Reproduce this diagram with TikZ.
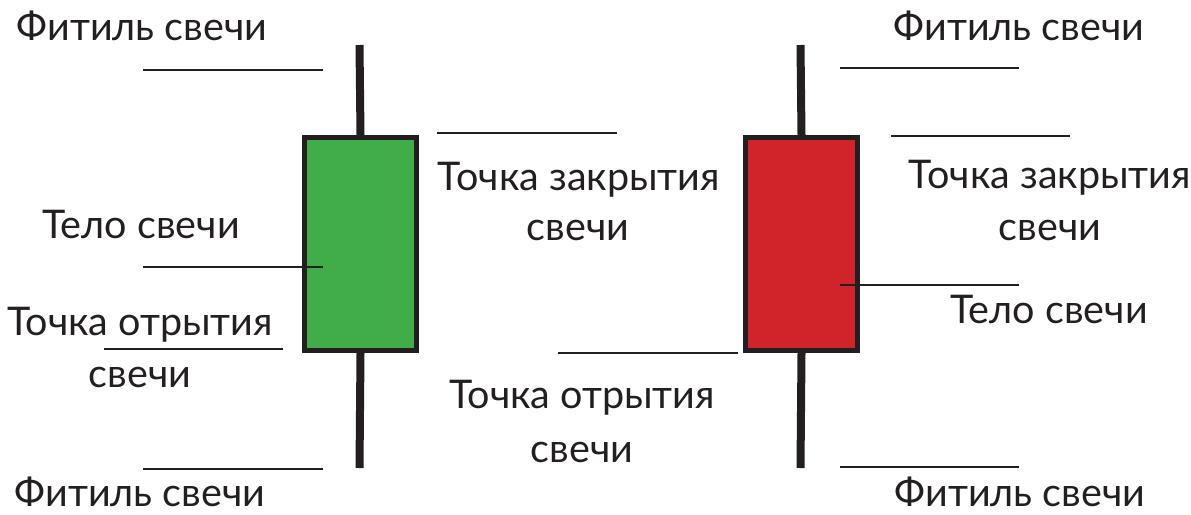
\documentclass[tikz,border=0pt]{standalone}
\usepackage{fontspec}
\setmainfont{Lato}
\definecolor{ink}{HTML}{231F20}
\definecolor{cgreen}{HTML}{41AD49}
\definecolor{cred}{HTML}{D0232A}
\tikzset{
  body/.style={draw=ink, line width=5pt, rectangle, inner sep=0pt, minimum width=112pt, minimum height=213pt},
  wick/.style={draw=ink, line width=8pt},
  lead/.style={draw=ink, line width=2.5pt},
  lbl/.style={anchor=base, inner sep=0pt, text=ink, font=\fontsize{39.5}{46}\selectfont}
}
\begin{document}
\begin{tikzpicture}[x=1pt,y=-1pt]
\useasboundingbox (0,0) rectangle (1191,514);
% left (green) candle
\coordinate (gtop) at (359.5,45);
\coordinate (gbot) at (359.5,468);
\node[body, fill=cgreen] (gb) at (360.5,244) {};
\draw[wick] (gtop) -- (gb.north);
\draw[wick] (gb.south) -- (gbot);
\node[body, fill=cgreen] at (gb) {};
% right (red) candle
\coordinate (rtop) at (800.5,45);
\coordinate (rbot) at (800.5,468);
\node[body, fill=cred] (rb) at (801.5,244) {};
\draw[wick] (rtop) -- (rb.north);
\draw[wick] (rb.south) -- (rbot);
\node[body, fill=cred] at (rb) {};
% left leader lines
\coordinate (a1) at (143,70);  \coordinate (a2) at (323,70);
\coordinate (b1) at (143,267); \coordinate (b2) at (323,267);
\coordinate (c1) at (104,349); \coordinate (c2) at (283,349);
\coordinate (d1) at (143,469); \coordinate (d2) at (323,469);
\draw[lead] (a1) -- (a2);
\draw[lead] (b1) -- (b2);
\draw[lead] (c1) -- (c2);
\draw[lead] (d1) -- (d2);
% middle leader lines
\coordinate (e1) at (437,133); \coordinate (e2) at (617,133);
\coordinate (f1) at (558,353); \coordinate (f2) at (738,353);
\draw[lead] (e1) -- (e2);
\draw[lead] (f1) -- (f2);
% right leader lines
\coordinate (g1) at (840,68);  \coordinate (g2) at (1019,68);
\coordinate (h1) at (891,136); \coordinate (h2) at (1070,136);
\coordinate (i1) at (840,285); \coordinate (i2) at (1019,285);
\coordinate (j1) at (840,467); \coordinate (j2) at (1019,467);
\draw[lead] (g1) -- (g2);
\draw[lead] (h1) -- (h2);
\draw[lead] (i1) -- (i2);
\draw[lead] (j1) -- (j2);
% left labels
\node[lbl] (t1) at (142,40) {Фитиль свечи};
\node[lbl] (t2) at (141,238) {Тело свечи};
\node[lbl] (t3) at (140,335) {Точка отрытия};
\node[lbl] (t3b) at (140,387) {свечи};
\node[lbl] (t4) at (140,506) {Фитиль свечи};
% middle labels
\node[lbl] (t5) at (579,190) {Точка закрытия};
\node[lbl] (t5b) at (578,240) {свечи};
\node[lbl] (t6) at (582,408) {Точка отрытия};
\node[lbl] (t6b) at (582,462) {свечи};
% right labels
\node[lbl] (t7) at (1019,40) {Фитиль свечи};
\node[lbl] (t8) at (1050,188) {Точка закрытия};
\node[lbl] (t8b) at (1050,240) {свечи};
\node[lbl] (t9) at (1049,323) {Тело свечи};
\node[lbl] (t10) at (1020,506) {Фитиль свечи};
\end{tikzpicture}
\end{document}
